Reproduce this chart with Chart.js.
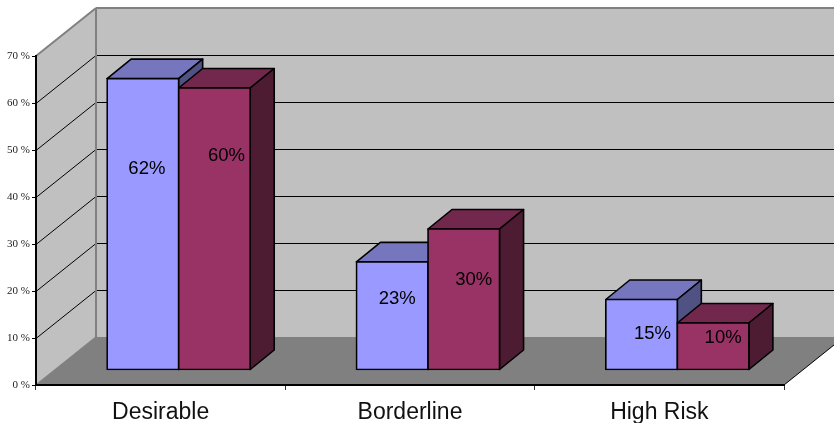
<!DOCTYPE html>
<html>
<head>
<meta charset="utf-8">
<title>Risk groups</title>
<script src="https://cdn.jsdelivr.net/npm/chart.js@4/dist/chart.umd.min.js"></script>
<style>
  html, body { margin: 0; padding: 0; background: #fff; }
  canvas { display: block; }
</style>
</head>
<body>
<canvas id="plot" width="834" height="423"></canvas>
<script>
const categories = ['Desirable', 'Borderline', 'High Risk'];
const seriesA = [62, 23, 15];
const seriesB = [60, 30, 10];
const yTicks = [0, 10, 20, 30, 40, 50, 60, 70];

// 3D look: how far the back wall and the bars are pushed into the page
const WALL = { dx: 60, dy: 48 };
const BAR_FRONT = { dx: 18, dy: 15 };
const BAR_DEPTH = { dx: 24, dy: 19.5 };

// value labels sit a little off the centre of the bar face
const labelNudge = [
  [[4, -55], [5, -17], [11, -1]],
  [[12, -73], [10, -19], [10, -8]]
];

const faces = [
  { front: '#9999ff', top: '#7676bf', side: '#4f5282' },
  { front: '#993366', top: '#72274c', side: '#4d1c33' }
];

function poly(ctx, pts, fill, stroke, width) {
  ctx.beginPath();
  pts.forEach((p, i) => i ? ctx.lineTo(p[0], p[1]) : ctx.moveTo(p[0], p[1]));
  ctx.closePath();
  if (fill) {
    ctx.fillStyle = fill;
    ctx.fill();
  }
  if (stroke) {
    ctx.strokeStyle = stroke;
    ctx.lineWidth = width;
    ctx.stroke();
  }
}

function line(ctx, x1, y1, x2, y2, color, width) {
  ctx.beginPath();
  ctx.moveTo(x1, y1);
  ctx.lineTo(x2, y2);
  ctx.strokeStyle = color;
  ctx.lineWidth = width;
  ctx.stroke();
}

// walls, floor and the grid lines that fold round them
const roomPlugin = {
  id: 'room',
  beforeDraw(chart) {
    const { ctx, chartArea: a, scales: { y } } = chart;
    const bx = a.left + WALL.dx, rx = a.right + WALL.dx;
    const top = a.top - WALL.dy, floor = a.bottom - WALL.dy;
    ctx.save();
    poly(ctx, [[bx, top], [rx, top], [rx, floor], [bx, floor]], '#c0c0c0');
    poly(ctx, [[a.left, a.top], [bx, top], [bx, floor], [a.left, a.bottom]], '#c0c0c0');
    poly(ctx, [[a.left, a.bottom], [bx, floor], [rx, floor], [a.right, a.bottom]], '#808080');

    yTicks.forEach(v => {
      if (v === 0 || v === 70) return;
      const py = Math.round(y.getPixelForValue(v)) + 0.5;
      line(ctx, a.left, py, bx, py - WALL.dy, '#000', 1);
      line(ctx, bx, py - WALL.dy, rx, py - WALL.dy, '#000', 1.2);
    });

    line(ctx, a.left, a.top, bx, top, '#808080', 2);
    line(ctx, bx, top, rx, top, '#808080', 2);
    line(ctx, bx, top, bx, floor, '#808080', 2);
    line(ctx, a.left, a.bottom, bx, floor, '#808080', 1.5);
    line(ctx, a.right, a.bottom, rx, floor, '#000', 1);
    ctx.restore();
  },
  // series are painted left to right so the right bar covers its neighbour's side
  beforeDatasetsDraw(chart) {
    const { ctx } = chart;
    chart.data.datasets.forEach((ds, i) => {
      const meta = chart.getDatasetMeta(i);
      const c = faces[i];
      ctx.save();
      ctx.translate(BAR_FRONT.dx, -BAR_FRONT.dy);
      ctx.lineJoin = 'round';
      meta.data.forEach(bar => {
        const { x, y, base, width } = bar.getProps(['x', 'y', 'base', 'width'], true);
        const l = x - width / 2, r = x + width / 2;
        const d = BAR_DEPTH;
        poly(ctx, [[l, y], [l + d.dx, y - d.dy], [r + d.dx, y - d.dy], [r, y]], c.top, '#000', 1.6);
        poly(ctx, [[r, y], [r + d.dx, y - d.dy], [r + d.dx, base - d.dy], [r, base]], c.side, '#000', 1.6);
      });
      meta.controller.draw();
      ctx.restore();
    });
  },
  beforeDatasetDraw() {
    return false;
  },
  afterDatasetsDraw(chart) {
    const { ctx } = chart;
    ctx.save();
    ctx.font = '18.5px "Liberation Sans", Arial, sans-serif';
    ctx.fillStyle = '#000';
    ctx.textAlign = 'center';
    ctx.textBaseline = 'middle';
    chart.data.datasets.forEach((ds, i) => {
      chart.getDatasetMeta(i).data.forEach((bar, j) => {
        const { x, y, base } = bar.getProps(['x', 'y', 'base'], true);
        const n = labelNudge[i][j];
        ctx.fillText(ds.data[j] + '%', x + BAR_FRONT.dx + n[0], (y + base) / 2 - BAR_FRONT.dy + n[1]);
      });
    });
    ctx.restore();
  }
};

const el = document.getElementById('plot');
const chart = new Chart(el.getContext('2d'), {
  type: 'bar',
  data: {
    labels: categories,
    datasets: [
      { label: 'A', data: seriesA, backgroundColor: faces[0].front },
      { label: 'B', data: seriesB, backgroundColor: faces[1].front }
    ]
  },
  options: {
    responsive: false,
    animation: false,
    layout: { padding: { top: 56, right: 50, left: 0, bottom: 0 } },
    datasets: {
      bar: {
        categoryPercentage: 0.574,
        barPercentage: 1,
        borderColor: '#000',
        borderWidth: 1.7,
        inflateAmount: 0.85,
        borderSkipped: false,
        clip: false
      }
    },
    scales: {
      x: {
        grid: { drawOnChartArea: false, color: '#333', tickLength: 5 },
        border: { color: '#000', width: 2 },
        ticks: {
          color: '#111',
          padding: 9,
          font: { family: '"Liberation Sans", Arial, sans-serif', size: 23 },
          maxRotation: 0
        },
        afterFit(scale) { scale.height = 38; }
      },
      y: {
        min: 0,
        max: 70,
        afterBuildTicks(scale) { scale.ticks = yTicks.map(value => ({ value })); },
        grid: { drawOnChartArea: false, color: '#000', tickLength: 4 },
        border: { color: '#000', width: 2 },
        ticks: {
          color: '#222',
          padding: 2,
          font: { family: '"Liberation Serif", "Times New Roman", serif', size: 11 },
          callback: v => v + ' %'
        },
        afterFit(scale) { scale.width = 36; }
      }
    },
    plugins: {
      legend: { display: false },
      title: { display: false },
      tooltip: { enabled: false }
    }
  },
  plugins: [roomPlugin]
});
</script>
</body>
</html>
